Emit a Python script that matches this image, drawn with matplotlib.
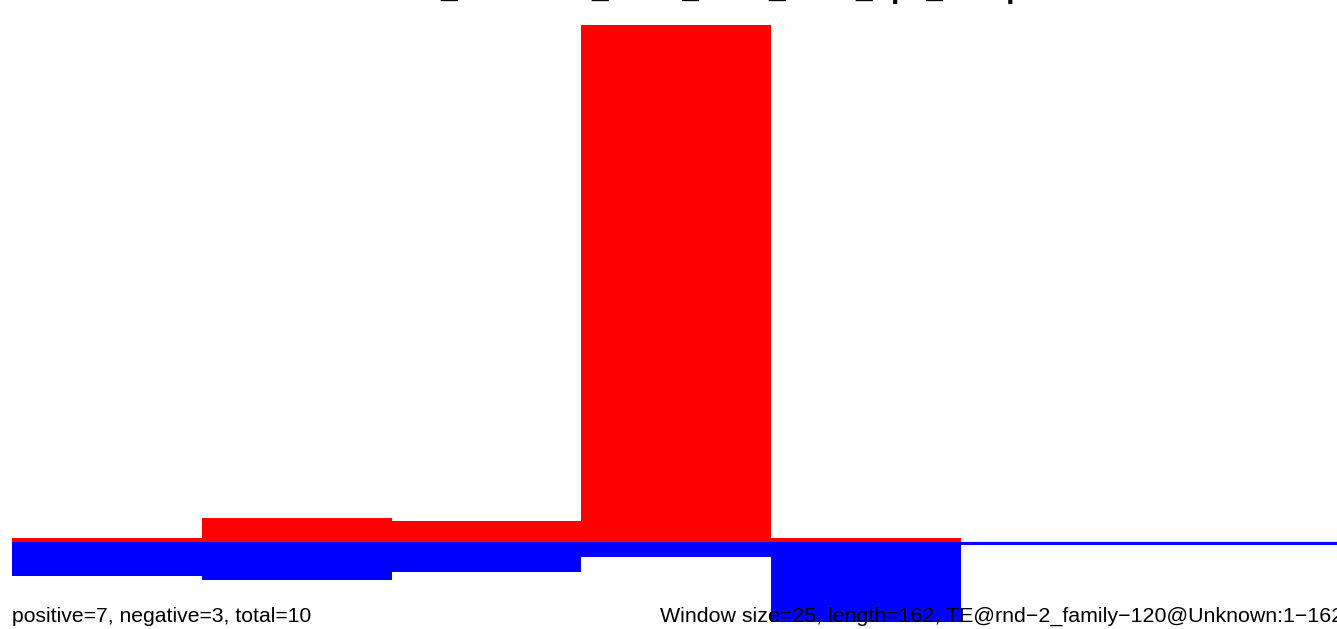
import matplotlib
matplotlib.use("Agg")
import matplotlib.pyplot as plt

# windows of 25 bp along a 162 bp TE consensus
bin_starts = [0, 25, 50, 75, 100, 125, 150]
pos_vals = [0.77, 4.45, 3.87, 100.0, 0.77, 0.0, 0.0]
neg_vals = [-6.7, -7.5, -5.9, -3.0, -15.6, -0.77, -0.77]

title_left = "TE-rnd-2-fam120"
title_right = "_Unknown_ws25_hits7_hits3_up3_dump"
left_note = "positive=7, negative=3, total=10"
right_note = "Window size=25, length=162, TE@rnd\u22122_family\u2212120@Unknown:1\u2212162"

W, H = 1337, 629
fig = plt.figure(figsize=(W / 100, H / 100), dpi=100)
ax = fig.add_axes([12 / W, 0, (W - 12) / W, 1])
ax.set_xlim(0, (W - 12) / 189.8 * 25)
ax.set_ylim(-(H - 541.5) / 5.17, 541.5 / 5.17)
ax.axis("off")

ax.axhline(0, color="#999999", lw=1, zorder=0)
ax.bar(bin_starts, pos_vals, width=25, align="edge", color="#FF0000", linewidth=0, zorder=2)
ax.bar(bin_starts, neg_vals, width=25, align="edge", color="#0000FF", linewidth=0, zorder=2)

fnt = "Liberation Sans"
# title sits above the top edge, only descenders show
ty = 1 + 2.3 / H
fig.text(440 / W, ty, title_left, ha="right", va="baseline", fontsize=21.6,
         fontweight="bold", family=fnt)
fig.text(440 / W, ty, title_right, ha="left", va="baseline", fontsize=21.6,
         fontweight="bold", family=fnt)

by = 1 - 622 / H
fig.text(12 / W, by, left_note, ha="left", va="baseline", fontsize=15.2, family=fnt)
fig.text(660 / W, by, right_note, ha="left", va="baseline", fontsize=15.4, family=fnt)

fig.savefig("out.png", dpi=100)
